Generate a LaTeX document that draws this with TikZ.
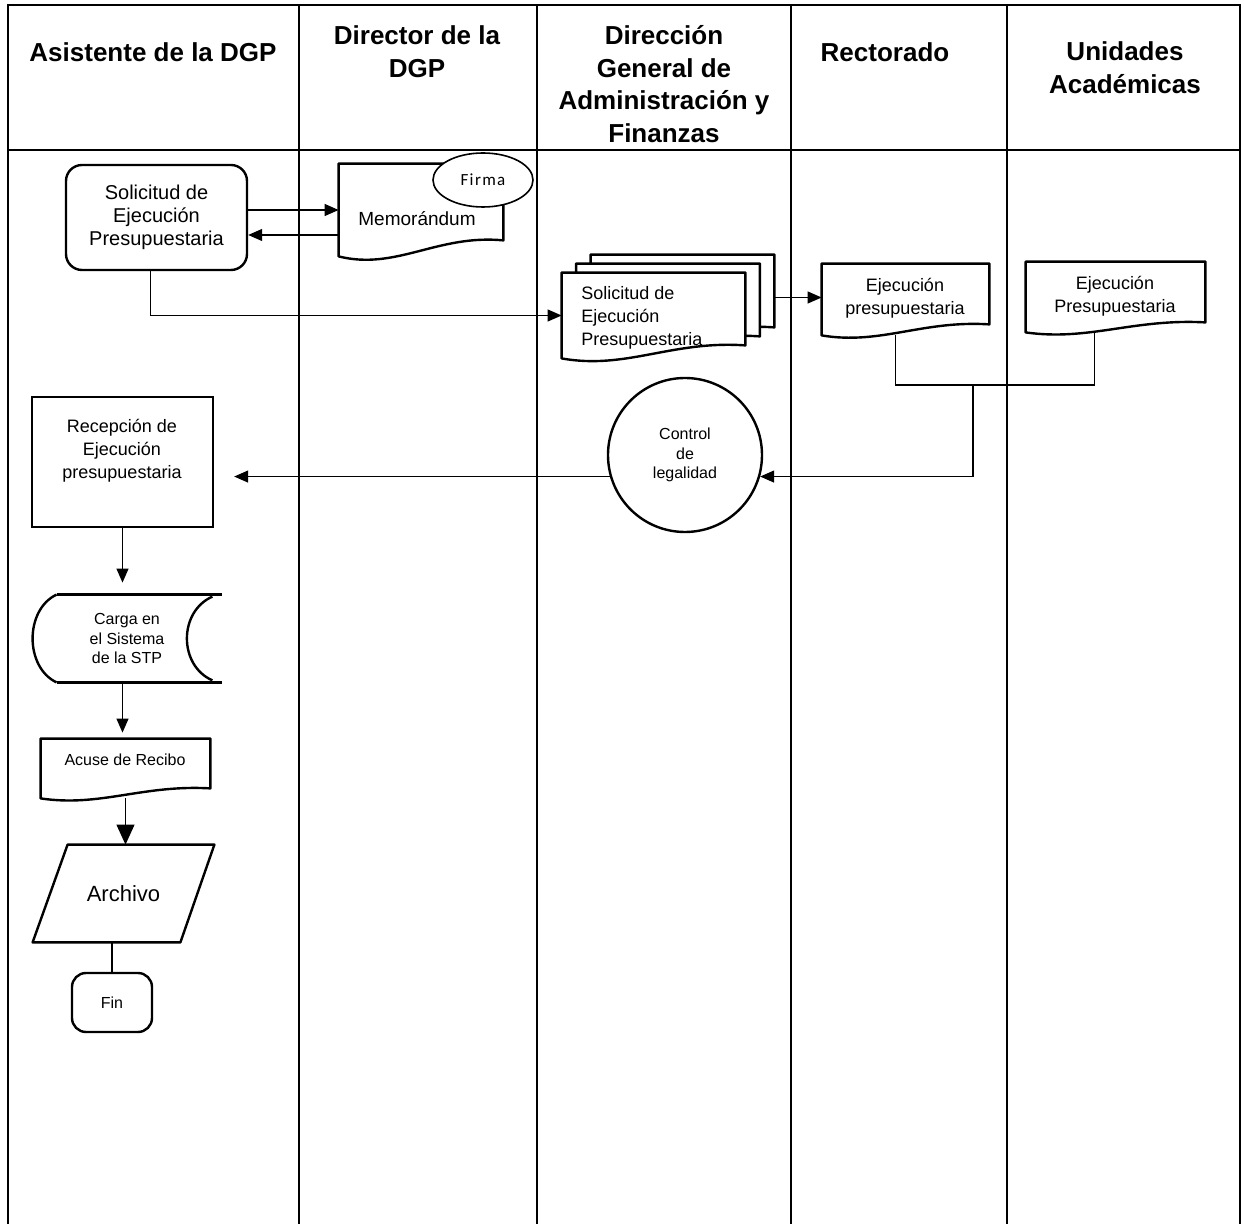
\documentclass[tikz,border=0pt]{standalone}
\usepackage{fontspec}
\setmainfont{Liberation Sans}
\newfontfamily\firmafont[LetterSpace=8]{Carlito}
\usetikzlibrary{arrows.meta,calc,shapes.geometric}

% document outline round an empty node: #1 node, #2 rise of the right end (px)
\newcommand{\docframe}[2]{%
  \draw[docline] (#1.south west) -- (#1.north west) -- (#1.north east) -- ($(#1.south east)+(0,-#2)$)
    .. controls ($(#1.south west)!0.6!(#1.south east)+(0,-1.4*#2)$) and ($(#1.south west)!0.35!(#1.south east)+(0,0.9*#2)$) .. (#1.south west) -- cycle;}

\begin{document}
\begin{tikzpicture}[x=0.5pt,y=0.5pt,yscale=-1,xscale=1,
  lane/.style={line width=0.6pt},
  lanehead/.style={font=\bfseries\fontsize{13}{16.3}\selectfont, align=center, inner sep=0pt},
  txt/.style={font=\fontsize{9}{11.5}\selectfont, align=center, inner sep=0pt},
  smalltxt/.style={font=\fontsize{8}{9.8}\selectfont, align=center, inner sep=0pt},
  procbox/.style={draw, line width=1.2pt, inner sep=0pt},
  docnode/.style={draw=none, inner sep=0pt},
  docline/.style={line width=1.2pt, fill=white, line join=round},
  conn/.style={line width=0.6pt},
  flecha/.style={line width=0.6pt, -{Triangle[length=7pt,width=6pt]}}]

\useasboundingbox (0,0) rectangle (1244,1224);

%Shape: Lanes
\draw[lane] (8,1224) -- (8,5) -- (1240,5) -- (1240,1224);
\draw[lane] (8,150) -- (1240,150);
\foreach \x in {299,537,791,1007}
  \draw[lane] (\x,5) -- (\x,1224);

% Text Node
\node[lanehead] (hasis) at (153,52) {Asistente de la DGP};
\node[lanehead] (hdir) at (417,52) {Director de la\\DGP};
\node[lanehead] (hdgaf) at (664,84) {Dirección\\General de\\Administración y\\Finanzas};
\node[lanehead] (hrect) at (885,52) {Rectorado};
\node[lanehead] (hunid) at (1125,68) {Unidades\\Académicas};

%Shape: Rounded Rect
\node[procbox, rounded corners=8pt, minimum width=90.5pt, minimum height=52.5pt, align=center, font=\fontsize{10}{11.5}\selectfont] (sol) at (156.5,217.5) {Solicitud de\\Ejecución\\Presupuestaria};

%Shape: Document + Ellipse
\node[docnode, minimum width=82pt, minimum height=46pt] (memo) at (421,210) {};
\docframe{memo}{16}
\node[draw, ellipse, fill=white, line width=0.8pt, minimum width=50pt, minimum height=27pt, inner sep=0pt, font=\firmafont\fontsize{8.5}{10}\selectfont] (firma) at (483,180) {Firma};
% Text Node
\node[txt, font=\fontsize{9.5}{11}\selectfont] (memot) at (417,219) {Memorándum};

%Straight Lines
\draw[flecha] (sol.east |- memo.west) -- (memo.west);
\draw[flecha] ($(memo.west)+(0,25)$) -- ($(sol.east)+(0,17.5)$);

%Shape: Multi Document
\node[docnode, minimum width=91.5pt, minimum height=42.5pt] (soli3) at (682.5,297.5) {};
\node[docnode, minimum width=91.5pt, minimum height=42.5pt] (soli2) at (668,306.5) {};
\node[docnode, minimum width=91.5pt, minimum height=42.5pt] (soli) at (653.5,315.5) {};
\docframe{soli3}{13}
\docframe{soli2}{13}
\docframe{soli}{13}
% Text Node
\node[txt, align=left, anchor=west] (solit) at (581,318) {Solicitud de\\Ejecución\\Presupuestaria};

\draw[flecha] ($(sol.south)+(-6,0)$) |- (soli.west);

%Shape: Document
\node[docnode, minimum width=83.5pt, minimum height=35.5pt] (rect) at (905.5,299.5) {};
\docframe{rect}{11}
\node[txt] (rectt) at (905,298) {Ejecución\\presupuestaria};
\draw[flecha] (soli3.east) -- (soli3.east -| rect.west);

%Shape: Document
\node[docnode, minimum width=89.5pt, minimum height=35pt] (unid) at (1115.5,297) {};
\docframe{unid}{10}
\node[txt] (unidt) at (1115,296) {Ejecución\\Presupuestaria};

%Straight Lines
\coordinate (junta) at (973,385);
\draw[conn] ($(rect.south)+(-10,0)$) |- (junta) -| ($(unid.south)+(-21,0)$);

%Shape: Circle
\node[smalltxt, draw, circle, line width=1.2pt, minimum size=77pt] (ctrl) at (685,455) {Control\\de\\legalidad};
\draw[flecha] (junta) |- (ctrl.-16);

%Shape: Rectangle
\node[procbox, minimum width=90.5pt, minimum height=65pt] (recep) at (122.5,462) {};
\node[txt] (recept) at (122,451) {Recepción de\\Ejecución\\presupuestaria};
\draw[flecha, shorten >=10pt] (ctrl.196) -- (ctrl.196 -| recep.east);

%Shape: Stored Data
\node[docnode, smalltxt, minimum width=95pt, minimum height=43.5pt] (carga) at (127,638.5) {Carga en\\el Sistema\\de la STP};
\draw[conn, line width=1.2pt] ($(carga.north west)+(25,0)$) -- (carga.north east)
  ($(carga.south west)+(25,0)$) -- (carga.south east);
\draw[conn, line width=1.2pt] ($(carga.north west)+(25,0)$) .. controls ($(carga.north west)+(-7,15)$) and ($(carga.south west)+(-7,-15)$) .. ($(carga.south west)+(25,0)$);
\draw[conn, line width=1.2pt] ($(carga.north east)+(-10,2)$) .. controls ($(carga.north east)+(-44,17)$) and ($(carga.south east)+(-44,-17)$) .. ($(carga.south east)+(-10,-2)$);
\draw[flecha, shorten >=6pt] (recep.south) -- (recep.south |- carga.north);

%Shape: Document
\node[docnode, minimum width=84.5pt, minimum height=29.5pt] (acuse) at (125.5,768.5) {};
\docframe{acuse}{10}
\node[smalltxt] (acuset) at (125,760) {Acuse de Recibo};
\draw[flecha, shorten >=3pt] (carga.south -| recep.south) -- (acuse.north -| recep.south);

%Shape: Parallelogram
\node[docnode, minimum width=90.5pt, minimum height=48.5pt, font=\fontsize{11}{13}\selectfont] (archivo) at (123.5,893.5) {Archivo};
\draw[docline, fill=none] ($(archivo.north west)+(35,0)$) -- (archivo.north east) -- ($(archivo.south east)+(-34,0)$) -- (archivo.south west) -- cycle;
\draw[conn, -{Triangle[length=10pt,width=9pt]}] (acuse.south) -- (acuse.south |- archivo.north);

%Shape: Terminal
\node[procbox, smalltxt, rounded corners=7pt, minimum width=40pt, minimum height=29.5pt] (fin) at (112,1002.5) {Fin};
\draw[conn] (fin.north |- archivo.south) -- (fin.north);

\end{tikzpicture}
\end{document}
